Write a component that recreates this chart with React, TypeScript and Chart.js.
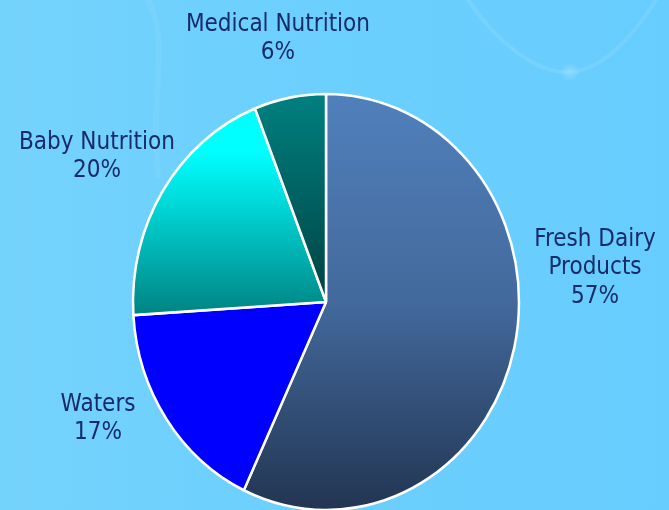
import React, { useEffect, useRef } from 'react';
import { Chart, registerables } from 'chart.js';

Chart.register(...registerables);

// ---- data ----
const categories = ['Fresh Dairy Products', 'Waters', 'Baby Nutrition', 'Medical Nutrition'];
const shares = [57, 17, 20, 6];
const labelNameLines = [['Fresh Dairy', 'Products'], ['Waters'], ['Baby Nutrition'], ['Medical Nutrition']];

// ---- layout / style ----
const W = 669;
const H = 510;
const RADIUS = 193;
const SCALE_Y = 208 / 193; // slightly taller-than-wide pie as in the reference
// label anchor offsets in units of the radius (x) / vertical radius (y)
const labelOffsets = [
  [1.394, -0.178],
  [-1.181, 0.548],
  [-1.187, -0.712],
  [-0.249, -1.279],
];
const TEXT_COLOR = '#172b69';
const FONT = '24px "DejaVu Sans Condensed", "DejaVu Sans", sans-serif';
const LINE_H = 28.5;
const TEXT_NUDGE_Y = 3;

function center(chart: any) {
  const a = chart.chartArea;
  return { cx: (a.left + a.right) / 2, cy: (a.top + a.bottom) / 2 };
}

function sliceColor(c: any) {
  const chart = c.chart;
  if (!chart.chartArea) return '#4a75aa';
  const ctx = chart.ctx;
  const { cy } = center(chart);
  const R = RADIUS;
  const y = (v: number) => cy + v * R;
  const i = c.dataIndex;
  if (i === 0) {
    const g = ctx.createLinearGradient(0, y(-1), 0, y(1));
    g.addColorStop(0, '#5080bb');
    g.addColorStop(0.5, '#43699c');
    g.addColorStop(1, '#223552');
    return g;
  }
  if (i === 1) return '#0000ff';
  if (i === 2) {
    const g = ctx.createLinearGradient(0, y(-0.72), 0, y(0.08));
    g.addColorStop(0, '#00ffff');
    g.addColorStop(1, '#008080');
    return g;
  }
  const g = ctx.createLinearGradient(0, y(-1), 0, y(0));
  g.addColorStop(0, '#008080');
  g.addColorStop(1, '#004242');
  return g;
}

const decorPlugin = {
  id: 'decor',
  beforeDraw(chart: any) {
    const ctx = chart.ctx;
    ctx.save();
    ctx.strokeStyle = 'rgba(255,255,255,0.09)';
    ctx.lineWidth = 4;
    ctx.lineCap = 'round';
    ctx.beginPath();
    ctx.moveTo(468, 0);
    ctx.bezierCurveTo(495, 40, 535, 74, 570, 72);
    ctx.bezierCurveTo(608, 70, 640, 25, 656, 0);
    ctx.stroke();
    ctx.strokeStyle = 'rgba(255,255,255,0.06)';
    ctx.lineWidth = 6;
    ctx.beginPath();
    ctx.moveTo(148, 0);
    ctx.bezierCurveTo(170, 40, 150, 90, 158, 175);
    ctx.stroke();
    const rg = ctx.createRadialGradient(570, 72, 0, 570, 72, 10);
    rg.addColorStop(0, 'rgba(255,255,255,0.22)');
    rg.addColorStop(1, 'rgba(255,255,255,0)');
    ctx.fillStyle = rg;
    ctx.beginPath();
    ctx.arc(570, 72, 10, 0, Math.PI * 2);
    ctx.fill();
    ctx.restore();
  },
};

const ellipsePlugin = {
  id: 'ellipse',
  beforeDatasetsDraw(chart: any) {
    const { cx, cy } = center(chart);
    const ctx = chart.ctx;
    ctx.save();
    ctx.translate(cx, cy);
    ctx.scale(1, SCALE_Y);
    ctx.translate(-cx, -cy);
  },
  afterDatasetsDraw(chart: any) {
    chart.ctx.restore();
  },
};

const labelPlugin = {
  id: 'sliceLabels',
  afterDraw(chart: any) {
    const ctx = chart.ctx;
    const meta = chart.getDatasetMeta(0);
    const { cx, cy } = center(chart);
    ctx.save();
    ctx.font = FONT;
    ctx.fillStyle = TEXT_COLOR;
    ctx.textAlign = 'center';
    ctx.textBaseline = 'middle';
    meta.data.forEach((arc: any, i: number) => {
      const r = arc.outerRadius;
      const [ox, oy] = labelOffsets[i];
      const ax = cx + ox * r;
      const ay = cy + oy * r * SCALE_Y + TEXT_NUDGE_Y;
      const lines = [...labelNameLines[i], `${shares[i]}%`];
      const top = ay - ((lines.length - 1) * LINE_H) / 2;
      lines.forEach((t, k) => ctx.fillText(t, ax, top + k * LINE_H));
    });
    ctx.restore();
  },
};

export default function App() {
  const ref = useRef<HTMLCanvasElement | null>(null);
  useEffect(() => {
    document.body.style.margin = '0';
    const canvas = ref.current;
    if (!canvas) return;
    const chart = new Chart(canvas, {
      type: 'pie',
      data: {
        labels: categories,
        datasets: [
          {
            data: shares,
            backgroundColor: sliceColor as any,
            borderColor: '#ffffff',
            borderWidth: 2.5,
            hoverOffset: 0,
          },
        ],
      },
      options: {
        animation: false,
        responsive: false,
        events: [],
        radius: RADIUS,
        layout: { padding: { left: 133, right: 150, top: 109, bottom: 15 } },
        plugins: {
          legend: { display: false },
          tooltip: { enabled: false },
        },
      } as any,
      plugins: [decorPlugin, ellipsePlugin, labelPlugin],
    });
    return () => chart.destroy();
  }, []);
  return (
    <div
      style={{
        position: 'fixed',
        left: 0,
        top: 0,
        width: W,
        height: H,
        overflow: 'hidden',
        background: 'linear-gradient(90deg, #75d3fb 0%, #6dd0fd 35%, #67cdfe 100%)',
      }}
    >
      <canvas ref={ref} width={W} height={H} style={{ display: 'block', width: W, height: H }} />
    </div>
  );
}
